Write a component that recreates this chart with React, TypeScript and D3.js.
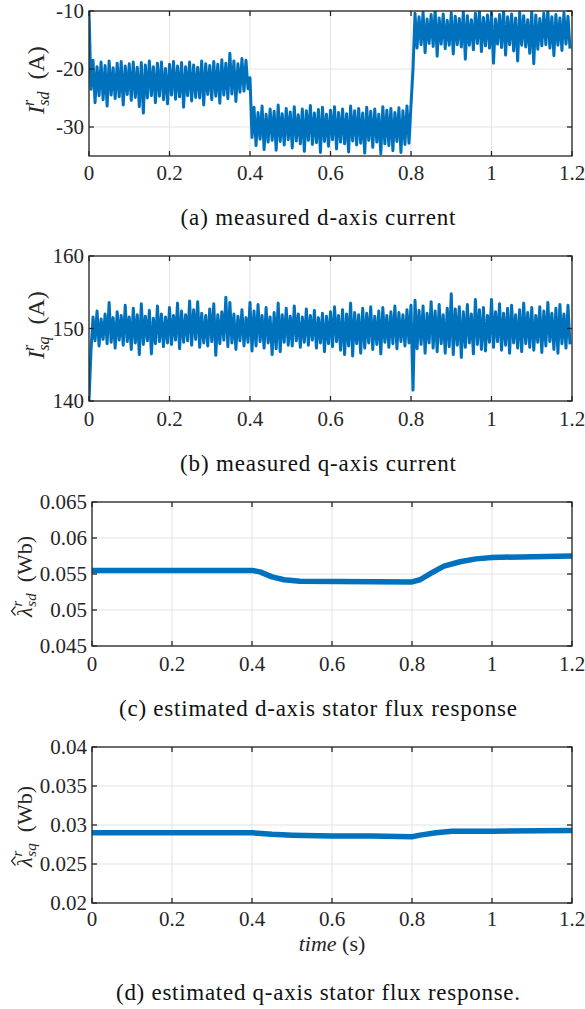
import React from "react";
import * as d3 from "d3";

// ---------- data ----------
const xTicks = [0, 0.2, 0.4, 0.6, 0.8, 1, 1.2];
const SAMPLE_DT = 0.01; // one upper + one lower peak per 0.01 s

// (a) measured d-axis current: upper peaks at t=i*0.01, lower peaks at t=i*0.01+0.005
const idHigh = [
  -10, -18.5, -19.6, -18.8, -19.4, -18.6, -19.8, -19.0, -18.7, -19.5,
  -19.1, -18.8, -19.7, -18.9, -19.3, -18.6, -19.6, -19.0, -18.8, -19.9,
  -19.2, -18.7, -19.5, -18.9, -19.6, -18.8, -19.3, -19.7, -18.6, -19.1,
  -19.4, -18.7, -19.2, -18.4, -19.0, -17.3, -18.6, -19.1, -18.2, -18.5,
  -21.5, -26.6, -27.5, -26.4, -27.8, -26.9, -27.3, -26.2, -27.7, -26.8,
  -27.4, -26.5, -27.9, -26.9, -27.2, -26.3, -27.6, -27.0, -26.6, -27.8,
  -27.1, -26.5, -27.5, -26.9, -27.7, -26.4, -27.2, -26.8, -27.6, -26.6,
  -27.3, -26.9, -27.8, -26.5, -27.1, -26.8, -27.5, -26.7, -27.2, -26.4,
  -26.2, -10.4, -11.0, -10.2, -11.4, -10.6, -9.8, -11.2, -10.5, -11.6,
  -10.3, -10.9, -11.3, -10.1, -10.8, -11.5, -10.4, -10.0, -11.1, -10.7,
  -10.3, -11.4, -10.6, -9.9, -11.0, -10.5, -11.2, -10.2, -10.8, -11.5,
  -10.1, -10.7, -11.3, -10.4, -9.8, -11.0, -10.6, -11.2, -10.3, -10.9,
];
const idLow = [
  -23.5, -25.8, -24.6, -25.3, -26.4, -24.5, -25.1, -24.8, -26.2, -24.4,
  -25.4, -24.9, -26.5, -27.6, -25.0, -24.6, -25.8, -24.7, -25.3, -26.0,
  -24.5, -25.2, -24.8, -26.6, -24.6, -25.5, -24.9, -25.0, -26.2, -24.4,
  -25.3, -24.7, -25.9, -24.5, -25.1, -24.3, -25.6, -24.0, -23.8, -23.4,
  -31.8, -33.2, -32.1, -33.9, -32.6, -32.3, -34.0, -32.5, -33.1, -32.2,
  -33.6, -32.4, -32.9, -34.2, -32.3, -33.0, -32.7, -34.4, -32.5, -33.3,
  -32.2, -33.8, -32.6, -32.9, -34.3, -32.4, -33.1, -32.8, -34.5, -32.3,
  -33.5, -32.6, -34.6, -32.9, -33.2, -34.1, -32.5, -34.4, -33.0, -32.8,
  -20.0, -16.4, -15.8, -17.2, -15.6, -16.1, -17.8, -15.7, -16.5, -15.9,
  -17.4, -15.8, -16.2, -18.3, -15.9, -16.7, -15.6, -17.0, -16.0, -16.4,
  -19.0, -15.7, -16.3, -17.6, -15.8, -16.9, -18.6, -15.9, -16.2, -17.3,
  -19.1, -16.6, -16.0, -15.8, -16.4, -17.7, -15.9, -16.8, -15.7, -16.5,
];

// (b) measured q-axis current
const iqHigh = [
  140, 151.6, 152.4, 151.3, 152.0, 153.6, 151.5, 152.3, 151.8, 153.2,
  151.6, 152.8, 151.9, 153.4, 151.7, 152.5, 151.4, 153.1, 152.0, 151.6,
  152.9, 151.8, 153.5, 152.4, 151.9, 153.8, 152.6, 153.7, 152.1, 151.8,
  152.7, 153.4, 151.9, 152.3, 154.3, 153.6, 152.0, 151.7, 152.6, 151.5,
  153.6, 152.4, 153.3, 151.8, 152.9, 151.6, 152.2, 153.5, 151.9, 152.8,
  151.7, 153.1, 152.0, 151.6, 152.7, 151.8, 152.5, 151.5, 152.1, 151.7,
  152.3, 153.0, 151.8, 152.6, 152.0, 153.5, 152.2, 151.9, 152.8, 152.1,
  153.0, 151.7, 152.4, 152.9, 151.8, 152.3, 153.1, 152.2, 151.9, 152.6,
  153.2, 153.9, 152.5, 153.1, 152.1, 153.7, 152.4, 153.3, 151.9, 152.8,
  154.8, 152.7, 153.0, 152.3, 153.3, 152.0, 154.0, 152.6, 152.9, 151.8,
  154.0, 152.3, 153.4, 152.1, 152.8, 153.2, 151.9, 152.6, 153.5, 152.2,
  152.9, 151.8, 153.0, 152.4, 153.6, 152.1, 152.8, 153.3, 152.0, 153.2,
];
const iqLow = [
  147.0, 148.3, 147.6, 148.5, 147.9, 148.1, 147.3, 148.4, 147.7, 148.2,
  147.1, 148.0, 146.4, 147.8, 148.3, 146.5, 147.9, 148.2, 147.5, 148.0,
  147.8, 148.4, 147.2, 148.1, 148.3, 147.7, 148.5, 147.4, 148.0, 147.6,
  148.2, 146.3, 147.9, 148.4, 147.5, 148.0, 147.1, 148.3, 147.6, 148.1,
  146.9, 147.6, 148.2, 147.3, 148.0, 146.4, 147.2, 146.8, 148.1, 147.7,
  147.6, 148.3, 147.4, 148.1, 147.7, 148.4, 147.3, 148.0, 146.8, 147.9,
  147.5, 148.2, 147.0, 146.4, 147.6, 146.2, 147.9, 146.6, 147.3, 148.0,
  147.1, 147.8, 146.5, 148.1, 147.4, 147.9, 147.2, 148.2, 147.6, 148.0,
  141.5, 147.2, 147.8, 146.6, 148.0, 147.3, 146.8, 147.9, 146.6, 147.5,
  146.4, 147.7, 146.0, 147.4, 148.0, 146.5, 147.8, 147.1, 146.9, 148.1,
  147.4, 148.2, 147.0, 147.7, 146.6, 148.0, 147.3, 146.8, 147.9, 147.4,
  147.0, 148.1, 146.7, 147.6, 148.2, 147.1, 146.6, 147.9, 147.3, 147.8,
];

// (c) estimated d-axis stator flux
const fluxDTime = [0, 0.4, 0.42, 0.45, 0.48, 0.52, 0.8, 0.82, 0.85, 0.88, 0.92, 0.96, 1.0, 1.2];
const fluxDVal = [0.0555, 0.0555, 0.0553, 0.0546, 0.0542, 0.054, 0.0539, 0.0542, 0.0552, 0.0561, 0.0567, 0.0571, 0.0573, 0.0575];

// (d) estimated q-axis stator flux
const fluxQTime = [0, 0.4, 0.45, 0.5, 0.6, 0.7, 0.8, 0.82, 0.86, 0.9, 1.0, 1.2];
const fluxQVal = [0.029, 0.029, 0.0288, 0.0287, 0.0286, 0.0286, 0.0285, 0.0287, 0.029, 0.0292, 0.0292, 0.0293];

const captions = [
  "(a) measured d-axis current",
  "(b) measured q-axis current",
  "(c) estimated d-axis stator flux response",
  "(d) estimated q-axis stator flux response.",
];

// ---------- helpers ----------
function peaksToSeries(hi: number[], lo: number[]) {
  const out: [number, number][] = [];
  hi.forEach((h, i) => {
    out.push([i * SAMPLE_DT, h]);
    out.push([i * SAMPLE_DT + SAMPLE_DT / 2, lo[i]]);
  });
  return out;
}
function zipSeries(t: number[], v: number[]) {
  return t.map((ti, i) => [ti, v[i]] as [number, number]);
}

const BLUE = "#0072BD";
const INK = "#262626";
const FONT = "'Liberation Serif', 'Times New Roman', serif";

type PanelProps = {
  id: string;
  left: number; right: number; top: number; bottom: number;
  yDomain: [number, number];
  yTicks: number[];
  data: [number, number][];
  strokeWidth: number;
  label: React.ReactNode;
  labelX: number;
  labelLen: number;
  labelSize: number;
  hat?: boolean;
  xLabelDy: number;
};

function Panel(p: PanelProps) {
  const x = d3.scaleLinear().domain([0, 1.2]).range([p.left, p.right]);
  const y = d3.scaleLinear().domain(p.yDomain).range([p.bottom, p.top]);
  const line = d3.line<[number, number]>().x(d => x(d[0])).y(d => y(d[1])).curve(d3.curveLinear);
  const tl = 5;
  const fmt = (v: number) => String(+v.toFixed(4));
  const xs = -p.labelLen / 2;
  return (
    <g>
      <defs>
        <clipPath id={p.id}>
          <rect x={p.left} y={p.top} width={p.right - p.left} height={p.bottom - p.top} />
        </clipPath>
      </defs>
      {xTicks.map(t => (
        <line key={"gx" + t} x1={x(t)} x2={x(t)} y1={p.top} y2={p.bottom} stroke="#e3e3e3" strokeWidth={1} />
      ))}
      {p.yTicks.map(t => (
        <line key={"gy" + t} x1={p.left} x2={p.right} y1={y(t)} y2={y(t)} stroke="#e3e3e3" strokeWidth={1} />
      ))}
      <path d={line(p.data) || ""} fill="none" stroke={BLUE} strokeWidth={p.strokeWidth}
        strokeLinejoin="round" clipPath={`url(#${p.id})`} />
      <rect x={p.left} y={p.top} width={p.right - p.left} height={p.bottom - p.top}
        fill="none" stroke={INK} strokeWidth={1.3} />
      {xTicks.map(t => (
        <g key={"tx" + t}>
          <line x1={x(t)} x2={x(t)} y1={p.bottom} y2={p.bottom - tl} stroke={INK} strokeWidth={1.3} />
          <line x1={x(t)} x2={x(t)} y1={p.top} y2={p.top + tl} stroke={INK} strokeWidth={1.3} />
          <text x={x(t)} y={p.bottom + p.xLabelDy} textAnchor="middle" fontFamily={FONT} fontSize={21} fill={INK}>
            {fmt(t)}
          </text>
        </g>
      ))}
      {p.yTicks.map(t => (
        <g key={"ty" + t}>
          <line x1={p.left} x2={p.left + tl} y1={y(t)} y2={y(t)} stroke={INK} strokeWidth={1.3} />
          <line x1={p.right} x2={p.right - tl} y1={y(t)} y2={y(t)} stroke={INK} strokeWidth={1.3} />
          <text x={p.left - 5} y={y(t)} dy="0.35em" textAnchor="end" fontFamily={FONT} fontSize={21} fill={INK}>
            {fmt(t)}
          </text>
        </g>
      ))}
      <g transform={`translate(${p.labelX},${(p.top + p.bottom) / 2}) rotate(-90)`}>
        <text x={xs} y={0} textAnchor="start" fontFamily={FONT} fontSize={p.labelSize} fill={INK}>
          {p.label}
        </text>
        {p.hat && (
          <path d={`M${xs + 1.5},-16.5 L${xs + 6},-20.5 L${xs + 10.5},-16.5`} fill="none" stroke={INK} strokeWidth={1.2} />
        )}
      </g>
    </g>
  );
}

export default function App() {
  const dataA = peaksToSeries(idHigh, idLow);
  const dataB = peaksToSeries(iqHigh, iqLow);
  const dataC = zipSeries(fluxDTime, fluxDVal);
  const dataD = zipSeries(fluxQTime, fluxQVal);

  const curLabel = (sub: string) => (
    <>
      <tspan fontStyle="italic">I</tspan>
      <tspan fontStyle="italic" fontSize={16} dy={-10}>r</tspan>
      <tspan fontStyle="italic" fontSize={16} dx={-6} dy={15}>{sub}</tspan>
      <tspan dy={-5}>{"\u2002(A)"}</tspan>
    </>
  );
  const fluxLabel = (sub: string) => (
    <>
      <tspan fontStyle="italic">{"\u03BB"}</tspan>
      <tspan fontStyle="italic" fontSize={15} dx={1} dy={-10}>r</tspan>
      <tspan fontStyle="italic" fontSize={15} dx={-6} dy={14}>{sub}</tspan>
      <tspan dy={-4}>{"\u2002(Wb)"}</tspan>
    </>
  );

  const capY = [225, 471, 716, 1000];
  const capLen = [275, 276, 398, 404];

  return (
    <svg width={585} height={1009} style={{ position: "absolute", left: 0, top: 0, background: "#fff" }}>
      <rect x={0} y={0} width={585} height={1009} fill="#fff" />
      <Panel id="ca" left={89} right={572} top={11} bottom={156} yDomain={[-35, -10]} yTicks={[-30, -20, -10]}
        data={dataA} strokeWidth={3} label={curLabel("sd")} labelX={44} labelLen={61} labelSize={24} xLabelDy={24} />
      <Panel id="cb" left={89} right={572} top={256} bottom={401} yDomain={[140, 160]} yTicks={[140, 150, 160]}
        data={dataB} strokeWidth={3} label={curLabel("sq")} labelX={44} labelLen={61} labelSize={24} xLabelDy={25} />
      <Panel id="cc" left={92} right={572} top={502} bottom={646} yDomain={[0.045, 0.065]}
        yTicks={[0.045, 0.05, 0.055, 0.06, 0.065]} data={dataC} strokeWidth={5.5} label={fluxLabel("sd")}
        labelX={32} labelLen={86} labelSize={22} hat xLabelDy={25} />
      <Panel id="cd" left={92} right={572} top={747} bottom={903} yDomain={[0.02, 0.04]}
        yTicks={[0.02, 0.025, 0.03, 0.035, 0.04]} data={dataD} strokeWidth={5.5} label={fluxLabel("sq")}
        labelX={32} labelLen={84} labelSize={22} hat xLabelDy={23} />
      <text x={332} y={951} textAnchor="middle" fontFamily={FONT} fontSize={22} fill={INK}>
        <tspan fontStyle="italic">time</tspan> (s)
      </text>
      {captions.map((c, i) => (
        <text key={c} x={318} y={capY[i]} textAnchor="middle" fontFamily={FONT} fontSize={23} fill="#111"
          textLength={capLen[i]} lengthAdjust="spacing">
          {c}
        </text>
      ))}
    </svg>
  );
}
